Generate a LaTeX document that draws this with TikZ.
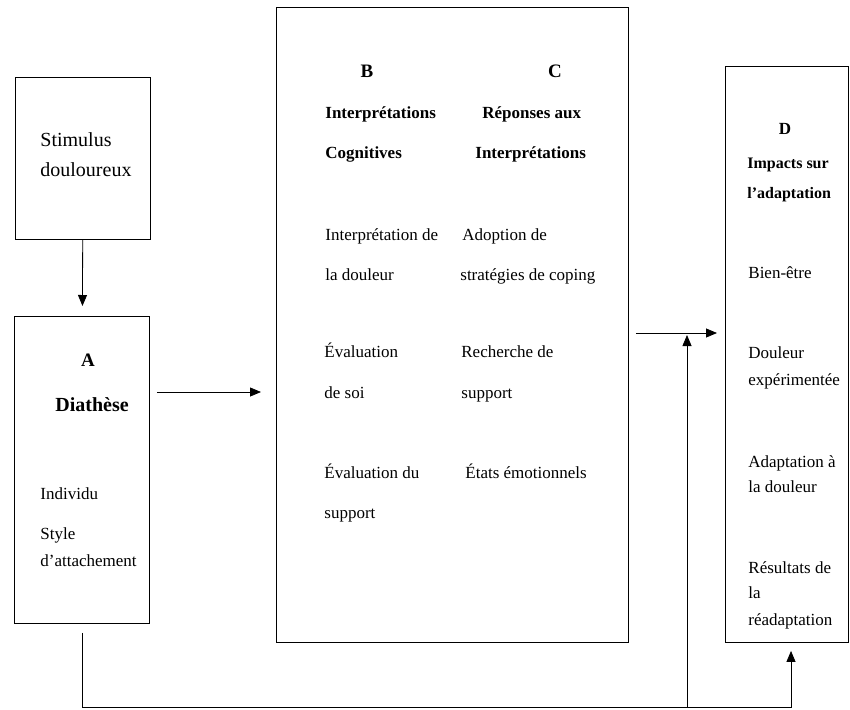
\documentclass[tikz,border=0pt]{standalone}
\usepackage{fontspec}
\setmainfont{Liberation Serif}
\usetikzlibrary{arrows.meta}
\tikzset{
  box/.style={draw, rectangle, anchor=north west, inner sep=0pt, line width=0.9pt},
  txt/.style={anchor=base west, inner sep=0pt, font=\fontsize{17}{20}\selectfont},
  big/.style={anchor=base west, inner sep=0pt, font=\fontsize{20}{24}\selectfont},
  hd/.style={txt, font=\fontsize{17}{20}\selectfont\bfseries},
  ltr/.style={anchor=base, inner sep=0pt, font=\fontsize{19}{22}\selectfont\bfseries},
}
\begin{document}
\begin{tikzpicture}[x=1pt, y=-1pt, line width=0.8pt, >={Triangle[length=11pt,width=9pt]}]
            \useasboundingbox (0,0) rectangle (850,709);
            % boxes
            \node[box, minimum width=135pt, minimum height=162pt] (stim) at (15,77) {};
            \node[box, minimum width=135pt, minimum height=307pt] (A) at (14,316) {};
            \node[box, minimum width=352pt, minimum height=635pt] (BC) at (276,7) {};
            \node[box, minimum width=123pt, minimum height=576pt] (D) at (725,66) {};
            % stimulus
            \node[big] (s1) at (40,146) {Stimulus};
            \node[big] (s2) at (40,176) {douloureux};
            % A
            \node[ltr] (la) at (88,366) {A};
            \node[ltr, font=\fontsize{20}{24}\selectfont\bfseries] (a0) at (92,411) {Diathèse};
            \node[txt] (a1) at (40,499) {Individu};
            \node[txt] (a2) at (40,539) {Style};
            \node[txt] (a3) at (40,566) {d’attachement};
            % B et C
            \node[ltr] (lb) at (367,77) {B};
            \node[ltr] (lc) at (555,77) {C};
            \node[hd] (b0) at (325,118) {Interprétations};
            \node[hd] (b00) at (325,158) {Cognitives};
            \node[hd] (c0) at (482,118) {Réponses aux};
            \node[hd] (c00) at (475,158) {Interprétations};
            \node[txt] (b1) at (325,240) {Interprétation de};
            \node[txt] (b2) at (325,280) {la douleur};
            \node[txt] (b3) at (324,357) {Évaluation};
            \node[txt] (b4) at (324,398) {de soi};
            \node[txt] (b5) at (324,478) {Évaluation du};
            \node[txt] (b6) at (324,518) {support};
            \node[txt] (c1) at (462,240) {Adoption de};
            \node[txt] (c2) at (460,280) {stratégies de coping};
            \node[txt] (c3) at (461,357) {Recherche de};
            \node[txt] (c4) at (461,398) {support};
            \node[txt] (c5) at (465,478) {États émotionnels};
            % D
            \node[ltr, font=\fontsize{17}{20}\selectfont\bfseries] (ld) at (785,134) {D};
            \node[hd, font=\fontsize{16}{20}\selectfont\bfseries] (d0) at (747,168) {Impacts sur};
            \node[hd, font=\fontsize{16}{20}\selectfont\bfseries] (d00) at (747,198) {l’adaptation};
            \node[txt] (d1) at (748,278) {Bien-être};
            \node[txt] (d2) at (748,358) {Douleur};
            \node[txt] (d3) at (748,385) {expérimentée};
            \node[txt] (d4) at (748,467) {Adaptation à};
            \node[txt] (d5) at (748,492) {la douleur};
            \node[txt] (d6) at (748,573) {Résultats de};
            \node[txt] (d7) at (748,598) {la};
            \node[txt] (d8) at (748,625) {réadaptation};
            % connectors
            \coordinate (ab) at (0,392);
            \coordinate (bd) at (0,333);
            \coordinate (fb) at (791,707);
            \coordinate (fbup) at (687,707);
            \draw[->, shorten >=10pt] (stim) -- (A);
            \draw[->, shorten <=7pt, shorten >=15pt] (A.east |- ab) -- (BC.west |- ab);
            \draw[->, shorten <=7pt, shorten >=8pt] (BC.east |- bd) -- (D.west |- bd);
            \draw[->, shorten <=9pt, shorten >=8pt] (A.south) |- (fb) -- (D.south -| fb);
            \draw[->, shorten >=2pt] (fbup) -- (fbup |- bd);
        \end{tikzpicture}
\end{document}
